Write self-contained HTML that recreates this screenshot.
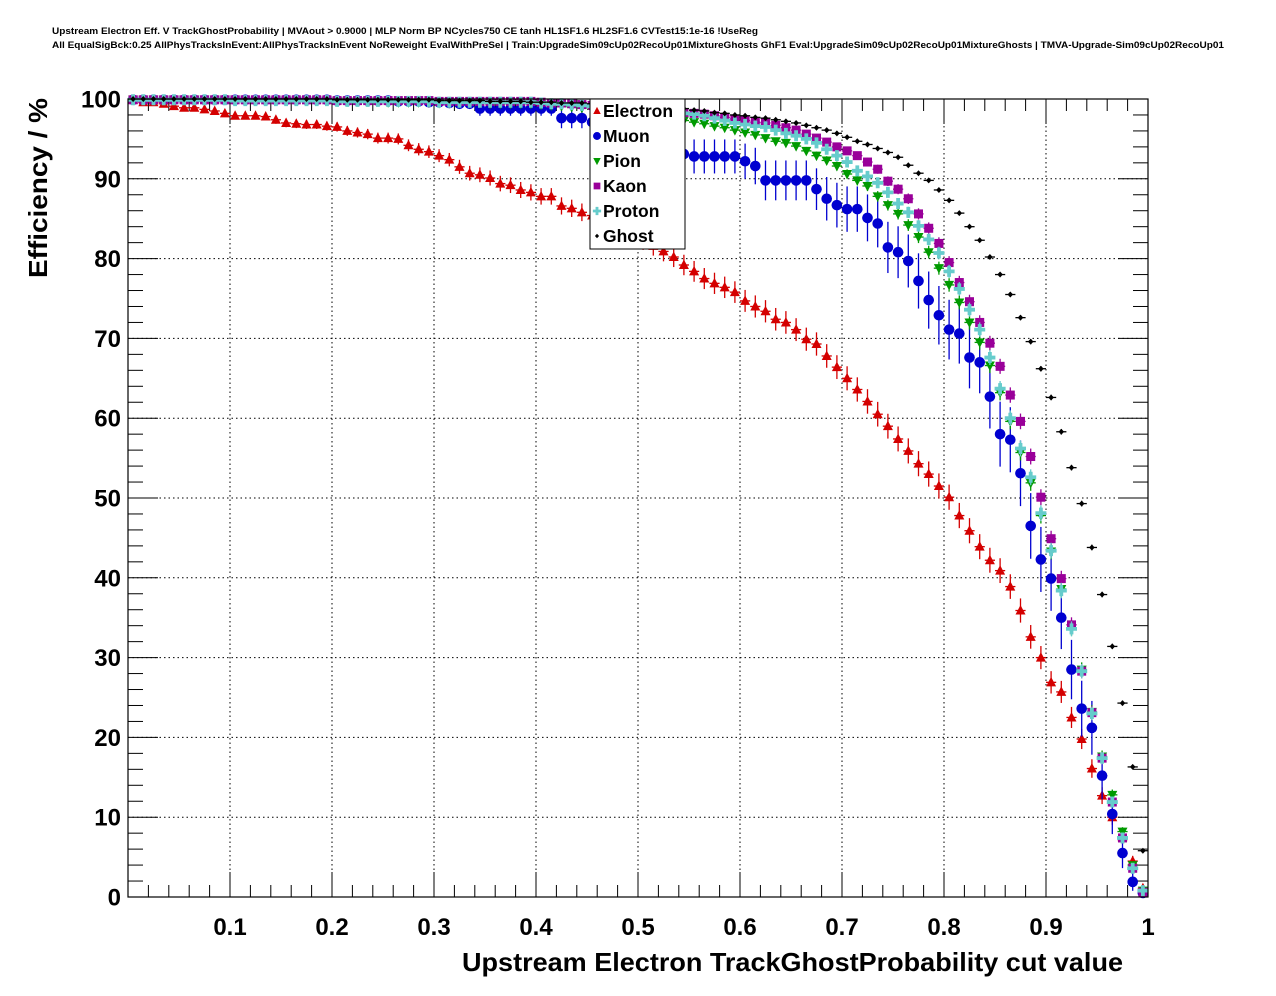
<!DOCTYPE html>
<html><head><meta charset="utf-8"><style>
html,body{margin:0;padding:0;background:#fff;}
svg{display:block;font-family:"Liberation Sans",sans-serif;}
</style></head><body>
<svg id="chart" width="1276" height="996" viewBox="0 0 1276 996">
<rect width="1276" height="996" fill="#fff"/>
<text x="52" y="34" font-size="9.5" font-weight="bold" textLength="706" lengthAdjust="spacingAndGlyphs">Upstream Electron Eff. V TrackGhostProbability | MVAout &gt; 0.9000 | MLP Norm BP NCycles750 CE tanh HL1SF1.6 HL2SF1.6 CVTest15:1e-16 !UseReg</text>
<text x="52" y="48" font-size="9.5" font-weight="bold" textLength="1172" lengthAdjust="spacingAndGlyphs">All EqualSigBck:0.25 AllPhysTracksInEvent:AllPhysTracksInEvent NoReweight EvalWithPreSel | Train:UpgradeSim09cUp02RecoUp01MixtureGhosts GhF1 Eval:UpgradeSim09cUp02RecoUp01MixtureGhosts | TMVA-Upgrade-Sim09cUp02RecoUp01</text>
<g id="grid"></g><g id="ticks"></g><g id="marks"></g>
<rect x="128" y="99" width="1020" height="798" fill="none" stroke="#000" stroke-width="1.2"/>
<text x="1123" y="971" font-size="26" font-weight="bold" text-anchor="end" textLength="661" lengthAdjust="spacingAndGlyphs">Upstream Electron TrackGhostProbability cut value</text>
<text transform="translate(47,278) rotate(-90)" font-size="26" font-weight="bold" textLength="180" lengthAdjust="spacingAndGlyphs">Efficiency / %</text>
<g id="legend">
<rect x="590" y="99" width="95" height="150" fill="#fff" stroke="#000" stroke-width="1"/>
</g>
</svg>
<script>
const binCount = 100;
const electron = [99.9,99.6,99.6,99.4,99.1,98.9,98.9,98.7,98.5,98.2,
97.9,97.9,97.9,97.8,97.4,97.0,96.9,96.8,96.8,96.6,
96.5,96.0,95.8,95.6,95.1,95.1,95.0,94.2,93.7,93.4,
92.9,92.4,91.5,90.7,90.5,90.1,89.4,89.2,88.6,88.3,
87.8,87.8,86.6,86.3,85.8,85.4,84.9,84.3,83.7,83.0,
82.3,81.6,80.9,80.2,79.2,78.4,77.5,76.9,76.4,75.8,
74.7,74.0,73.4,72.4,72.0,71.1,69.9,69.3,67.8,66.4,
65.0,63.6,62.1,60.5,59.0,57.4,55.9,54.3,53.0,51.5,
50.1,47.8,45.9,43.9,42.2,40.9,38.9,35.9,32.6,30.0,
26.9,25.7,22.5,19.8,16.1,12.7,10.0,7.5,4.5,1.1];
const muon = [99.9,99.9,99.9,99.9,99.9,99.9,99.9,99.9,99.9,99.9,
99.9,99.9,99.9,99.9,99.9,99.9,99.9,99.9,99.9,99.9,
99.8,99.8,99.8,99.8,99.8,99.8,99.7,99.7,99.7,99.6,
99.6,99.5,99.4,99.4,98.8,98.8,98.8,98.8,98.8,98.8,
98.8,98.8,97.6,97.6,97.6,97.1,96.6,96.0,95.6,95.2,
94.8,94.3,93.9,93.5,93.1,92.8,92.8,92.8,92.8,92.8,
92.2,91.6,89.8,89.8,89.8,89.8,89.8,88.7,87.5,86.7,
86.2,86.2,85.1,84.4,81.4,80.8,79.7,77.2,74.8,72.9,
71.1,70.6,67.6,67.0,62.7,58.0,57.3,53.1,46.5,42.3,
39.9,35.0,28.5,23.6,21.2,15.2,10.4,5.5,1.9,0.5];
const pion = [99.9,99.9,99.9,99.9,99.9,99.9,99.9,99.9,99.9,99.9,
99.9,99.9,99.8,99.8,99.8,99.8,99.8,99.8,99.8,99.8,
99.7,99.7,99.7,99.7,99.7,99.6,99.6,99.6,99.6,99.6,
99.5,99.5,99.5,99.5,99.5,99.4,99.4,99.4,99.4,99.4,
99.3,99.2,99.1,99.0,98.9,98.7,98.5,98.3,98.1,97.9,
97.8,97.7,97.6,97.5,97.3,97.1,96.9,96.6,96.4,96.1,
95.8,95.5,95.1,94.7,94.5,94.1,93.5,92.9,92.3,91.6,
90.6,89.8,89.1,87.8,86.7,85.6,84.2,82.7,80.8,78.8,
76.7,74.5,72.0,69.5,66.6,63.2,59.6,55.7,51.9,47.8,
43.3,38.6,33.7,28.5,23.2,17.6,12.8,8.2,4.0,0.8];
const kaon = [99.9,99.9,99.9,99.9,99.9,99.9,99.9,99.9,99.9,99.9,
99.9,99.9,99.9,99.9,99.9,99.9,99.9,99.9,99.9,99.9,
99.8,99.8,99.8,99.8,99.8,99.8,99.8,99.8,99.8,99.8,
99.7,99.7,99.7,99.7,99.7,99.7,99.7,99.7,99.7,99.7,
99.6,99.5,99.5,99.4,99.3,99.2,99.1,99.0,98.9,98.8,
98.7,98.6,98.5,98.4,98.3,98.2,98.1,97.9,97.7,97.5,
97.3,97.1,97.0,96.7,96.4,96.1,95.6,95.1,94.6,94.0,
93.5,92.9,92.1,91.2,89.7,88.7,87.5,85.6,83.8,81.9,
79.5,77.0,74.6,72.0,69.4,66.5,62.9,59.6,55.2,50.1,
44.9,39.9,34.1,28.3,23.1,17.4,11.9,7.4,3.6,0.6];
const proton = [99.9,99.9,99.9,99.9,99.9,99.9,99.9,99.9,99.9,99.9,
99.8,99.8,99.8,99.8,99.8,99.8,99.8,99.8,99.8,99.8,
99.7,99.7,99.7,99.7,99.7,99.7,99.7,99.7,99.7,99.7,
99.6,99.6,99.6,99.6,99.6,99.6,99.6,99.6,99.6,99.6,
99.5,99.4,99.4,99.3,99.2,99.1,99.0,98.9,98.8,98.7,
98.6,98.5,98.4,98.3,98.2,98.1,97.9,97.6,97.3,97.0,
96.8,96.6,96.5,96.1,95.7,95.4,95.0,94.5,93.7,92.9,
92.1,91.0,90.3,89.5,88.3,86.9,85.8,84.1,82.4,80.7,
78.4,76.2,73.6,71.1,67.6,63.7,60.0,56.2,52.6,48.1,
43.4,38.4,33.6,28.3,23.0,17.4,11.9,7.4,3.6,0.8];
const ghost = [100,100,100,100,100,100,100,100,100,100,
100,100,100,100,100,100,100,100,100,100,
99.9,99.9,99.9,99.9,99.9,99.9,99.9,99.9,99.9,99.9,
99.8,99.8,99.8,99.8,99.8,99.7,99.7,99.7,99.7,99.6,
99.6,99.6,99.5,99.5,99.5,99.4,99.4,99.4,99.3,99.3,
99.2,99.1,99.0,98.9,98.8,98.6,98.5,98.3,98.2,98.0,
97.9,97.7,97.6,97.4,97.2,97.0,96.7,96.4,96.1,95.7,
95.2,94.7,94.3,93.8,93.3,92.7,91.7,90.7,89.8,88.6,
87.3,85.7,84.0,82.3,80.2,78.0,75.5,72.6,69.6,66.2,
62.6,58.3,53.8,49.3,43.8,37.9,31.4,24.3,16.3,5.8];
const seriesNames = ["Electron","Muon","Pion","Kaon","Proton","Ghost"];
const sampleSizes = [1000,147,2500,2500,2500,20000];
const yTicks = [0,10,20,30,40,50,60,70,80,90,100];
const xTicks = [0.1,0.2,0.3,0.4,0.5,0.6,0.7,0.8,0.9,1];
const xTickLabels = ["0.1","0.2","0.3","0.4","0.5","0.6","0.7","0.8","0.9","1"];

const NS = "http://www.w3.org/2000/svg";
const X0=128,X1=1148,Y0=897,Y1=99;
const xs = v => X0 + v*(X1-X0);
const ys = v => Y0 - v/100*(Y0-Y1);
function mk(tag, attrs, parent){const e=document.createElementNS(NS,tag);for(const k in attrs)e.setAttribute(k,attrs[k]);parent.appendChild(e);return e;}
const grid=document.getElementById('grid'), ticks=document.getElementById('ticks'), marks=document.getElementById('marks');

yTicks.forEach(t=>{
  if(t>0&&t<100){const g=mk('line',{x1:X0,x2:X1,y1:ys(t),y2:ys(t),stroke:'#000','stroke-width':1,'stroke-dasharray':'1.5,3'},grid);
  
  }
  const lb=mk('text',{x:121,y:ys(t)+8.5,'font-size':24,'font-weight':'bold','text-anchor':'end'},ticks);
  lb.textContent=t;
  
  
});
for(let v=0;v<=100;v+=2){const L=(v%10===0)?30:15;
  mk('line',{x1:X0,x2:X0+L,y1:ys(v),y2:ys(v),stroke:'#000'},ticks);
  mk('line',{x1:X1,x2:X1-L,y1:ys(v),y2:ys(v),stroke:'#000'},ticks);}
for(let i=0;i<=50;i++){const v=i*0.02;const L=(i%5===0)?25:12;
  mk('line',{x1:xs(v),x2:xs(v),y1:Y0,y2:Y0-L,stroke:'#000'},ticks);
  mk('line',{x1:xs(v),x2:xs(v),y1:Y1,y2:Y1+L,stroke:'#000'},ticks);}
xTicks.forEach((t,i)=>{
  if(t<1){const g=mk('line',{x1:xs(t),x2:xs(t),y1:Y0,y2:Y1,stroke:'#000','stroke-width':1,'stroke-dasharray':'1.5,3'},grid);
  
  }
  const lb=mk('text',{x:xs(t),y:935,'font-size':24,'font-weight':'bold','text-anchor':'middle'},ticks);
  lb.textContent=xTickLabels[i];
  
  
});

const colors=["#d40000","#0000d0","#009a00","#990099","#66cccc","#000"];
const dataSets=[electron,muon,pion,kaon,proton,ghost];
function marker(k,cx,cy,parent,s){
  s=s||1;const c=colors[k];
  if(k===0) return mk('polygon',{points:`${cx},${cy-5.5*s} ${cx-5*s},${cy+4*s} ${cx+5*s},${cy+4*s}`,fill:c},parent);
  if(k===1) return mk('circle',{cx:cx,cy:cy,r:5.3*s,fill:c},parent);
  if(k===2) return mk('polygon',{points:`${cx},${cy+5.5*s} ${cx-5*s},${cy-4*s} ${cx+5*s},${cy-4*s}`,fill:c},parent);
  if(k===3) return mk('rect',{x:cx-4.5*s,y:cy-4.5*s,width:9*s,height:9*s,fill:c},parent);
  if(k===4) return mk('path',{d:`M${cx-5.5*s},${cy-1.9*s}h${3.6*s}v${-3.6*s}h${3.8*s}v${3.6*s}h${3.6*s}v${3.8*s}h${-3.6*s}v${3.6*s}h${-3.8*s}v${-3.6*s}h${-3.6*s}z`,fill:c},parent);
  return mk('polygon',{points:`${cx},${cy-3*s} ${cx+2.8*s},${cy} ${cx},${cy+3*s} ${cx-2.8*s},${cy}`,fill:c},parent);
}
dataSets.forEach((arr,k)=>{
  const g=mk('g',{},marks);
  
  
  arr.forEach((v,i)=>{
    const x=(i+0.5)/binCount, cx=xs(x), cy=ys(v);
    const p=v/100, err=100*Math.sqrt(Math.max(p*(1-p),0)/sampleSizes[k]);
    mk('line',{x1:xs(i/binCount),x2:xs((i+1)/binCount),y1:cy,y2:cy,stroke:colors[k],'stroke-width':1.3},g);
    if(err>0.3) mk('line',{x1:cx,x2:cx,y1:ys(v+err),y2:ys(v-err),stroke:colors[k],'stroke-width':1.3},g);
    const m=marker(k,cx,cy,g);
    
    
  });
});
const leg=document.getElementById('legend');
seriesNames.forEach((n,k)=>{
  const y=111+25*k;
  const e=mk('g',{},leg);
  
  
  marker(k,597,y,e,0.75);
  const t=mk('text',{x:603,y:y+6,'font-size':17.5,'font-weight':'bold'},e);
  t.textContent=n;
});
</script>
</body></html>
